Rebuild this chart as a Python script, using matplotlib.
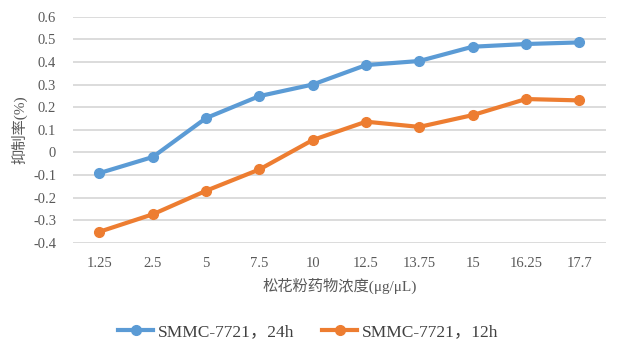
import matplotlib.pyplot as plt

plt.rcParams['font.family'] = ['Liberation Serif', 'Noto Sans CJK SC']
plt.rcParams['axes.unicode_minus'] = False

concentrations = ['1.25', '2.5', '5', '7.5', '10', '12.5', '13.75', '15', '16.25', '17.7']
rate_24h = [-0.091, -0.02, 0.152, 0.249, 0.30, 0.386, 0.404, 0.467, 0.479, 0.486]
rate_12h = [-0.35, -0.273, -0.169, -0.075, 0.055, 0.136, 0.113, 0.165, 0.236, 0.23]
series_names = ['SMMC-7721，24h', 'SMMC-7721，12h']
yticks = [-0.4, -0.3, -0.2, -0.1, 0, 0.1, 0.2, 0.3, 0.4, 0.5, 0.6]

fig = plt.figure(figsize=(6.17, 3.39), dpi=100)
ax = fig.add_axes([0.118, 0.283, 0.864, 0.668])

x = range(len(concentrations))
ax.plot(x, rate_24h, color='#5B9BD5', linewidth=3, marker='o', markersize=7,
        label=series_names[0], zorder=3)
ax.plot(x, rate_12h, color='#ED7D31', linewidth=3, marker='o', markersize=7,
        label=series_names[1], zorder=3)

ax.set_xlim(-0.5, len(concentrations) - 0.5)
ax.set_ylim(-0.4, 0.6)
ax.set_xticks(list(x))
ax.set_xticklabels(concentrations)
ax.set_yticks(yticks)
ax.set_yticklabels(['0' if v == 0 else f'{v:.1f}' for v in yticks])
ax.grid(axis='y', color='#d9d9d9', linewidth=1.3)
ax.set_axisbelow(True)
for s in ax.spines.values():
    s.set_visible(False)
ax.tick_params(length=0, labelsize=10.5, colors='#595959')
ax.tick_params(axis='x', pad=10)
ax.tick_params(axis='y', pad=12)

ax.set_xlabel('松花粉药物浓度(μg/μL)', fontsize=11, color='#595959', labelpad=6)
ax.set_ylabel('抑制率(%)', fontsize=11, color='#595959', labelpad=4)

fig.legend(loc='center', bbox_to_anchor=(0.5, 0.02), ncol=2, frameon=False,
           fontsize=12.5, handlelength=2.0, handletextpad=0.3, columnspacing=1.6,
           labelcolor='#404040')

fig.savefig('out.png', dpi=100)
